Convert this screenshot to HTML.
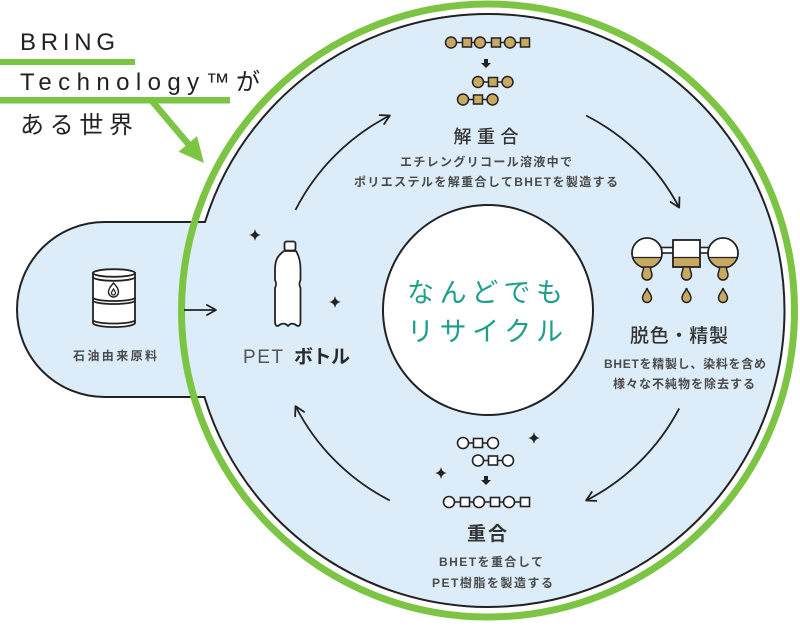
<!DOCTYPE html>
<html>
<head>
<meta charset="utf-8">
<style>
  html,body{margin:0;padding:0;background:#fff;}
  body{width:800px;height:628px;overflow:hidden;}
  svg{display:block;}
  text{font-family:"Liberation Sans","Noto Sans CJK JP",sans-serif;}
</style>
</head>
<body>
<svg width="800" height="628" viewBox="0 0 800 628" xmlns="http://www.w3.org/2000/svg">
  <defs>
    <marker id="ah" viewBox="0 0 12 12" refX="10.5" refY="6" markerWidth="12" markerHeight="12" markerUnits="userSpaceOnUse" orient="auto">
      <path d="M1.5,1 L10.5,6 L1.5,11" fill="none" stroke="#222" stroke-width="1.8" stroke-linecap="round" stroke-linejoin="round"/>
    </marker>
    <clipPath id="liq"><rect x="600" y="257.5" width="160" height="30"/></clipPath>
  </defs>

  <rect x="0" y="0" width="800" height="628" fill="#fff"/>

  <path d="M205,222 A296.5,296.5 0 1 1 204.4,397 L104.5,397 A87.5,87.5 0 0 1 104.5,222 Z"
        fill="#dcedf9" stroke="#222" stroke-width="2"/>

  <circle cx="488" cy="310.5" r="306.5" fill="none" stroke="#7cc444" stroke-width="7"/>

  <circle cx="488" cy="310" r="105" fill="#fff" stroke="#222" stroke-width="2"/>

  <text x="20" y="50" font-size="24" fill="#222" textLength="95" lengthAdjust="spacing">BRING</text>
  <rect x="0" y="59" width="135" height="6" fill="#7cc444"/>
  <text x="20" y="90" font-size="24" fill="#222" textLength="240" lengthAdjust="spacing">Technology™が</text>
  <rect x="0" y="97" width="230" height="6.5" fill="#7cc444"/>
  <text x="20" y="133" font-size="24" fill="#222" textLength="113" lengthAdjust="spacing">ある世界</text>
  <line x1="152" y1="101" x2="190" y2="146" stroke="#7cc444" stroke-width="6.5"/>
  <polygon points="204,163 178.6,151.7 197,136.1" fill="#7cc444"/>

  <g fill="none" stroke="#222" stroke-width="1.8" marker-end="url(#ah)">
    <path d="M295.5,209.9 A216,216 0 0 1 389.9,115.5"/>
    <path d="M586.1,115.5 A216,216 0 0 1 679.2,207.6"/>
    <path d="M679.2,408.4 A216,216 0 0 1 586.1,500.5"/>
    <path d="M389.9,500.5 A216,216 0 0 1 295.5,406.1"/>
  </g>

  <line x1="184" y1="310" x2="216" y2="310" stroke="#222" stroke-width="1.8" marker-end="url(#ah)"/>

  <g stroke="#222" stroke-width="1.8" fill="#fff">
    <path d="M93,273 L93,323 A21,4 0 0 0 135,323 L135,273 Z"/>
    <ellipse cx="114" cy="273" rx="21" ry="3.8"/>
    <path d="M93,277 A21,3.8 0 0 0 135,277" fill="none"/>
    <path d="M93,297.5 A21,3.5 0 0 0 135,297.5" fill="none"/>
    <path d="M93,300.5 A21,3.5 0 0 0 135,300.5" fill="none"/>
    <path d="M93,320 A21,3.5 0 0 0 135,320" fill="none"/>
    <path d="M113.5,283 C116.5,286 118.5,289 118.5,292 A5,5 0 0 1 108.5,292 C108.5,289 110.5,286.5 113.5,283 Z" stroke-width="1.4"/>
    <path d="M113.5,289 C114.5,290.5 115.5,292 115.5,293 A2,2 0 0 1 111.5,293 C111.5,292 112.5,290.5 113.5,289 Z" stroke-width="1.2"/>
  </g>
  <text x="115" y="360" font-size="12" font-weight="700" fill="#4a4a4a" text-anchor="middle" textLength="84" lengthAdjust="spacing">石油由来原料</text>

  <g stroke="#222" stroke-width="1.8" fill="#fff" stroke-linejoin="round">
    <rect x="284.5" y="241.5" width="11" height="9" rx="2"/>
    <path d="M284,251 L296,251 C299,256 300.5,261 300.5,270 L300.5,280 C299,283 299,285 300.5,288 L300.5,321 C300.5,326 298.5,327 296,325 C293.5,323 290.5,323 288,326 C285.5,323 282,323 279.5,325 C277,327 275,326 275,321 L275,288 C276.5,285 276.5,283 275,280 L275,270 C275,261 277,256 284,251 Z"/>
  </g>
  <text x="243" y="363" font-size="19" fill="#555" textLength="40" lengthAdjust="spacing">PET</text>
  <text x="294" y="363" font-size="19" font-weight="700" fill="#2a2a2a" textLength="56" lengthAdjust="spacing">ボトル</text>

  <g fill="#222">
    <path d="M255,229 Q255.8,234.2 261,235 Q255.8,235.8 255,241 Q254.2,235.8 249,235 Q254.2,234.2 255,229 Z"/>
    <path d="M335,296 Q335.8,301.2 341,302 Q335.8,302.8 335,308 Q334.2,302.8 329,302 Q334.2,301.2 335,296 Z"/>
    <path d="M534,432 Q534.8,437.2 540,438 Q534.8,438.8 534,444 Q533.2,438.8 528,438 Q533.2,437.2 534,432 Z"/>
    <path d="M441,467 Q441.8,472.2 447,473 Q441.8,473.8 441,479 Q440.2,473.8 435,473 Q440.2,472.2 441,467 Z"/>
  </g>

  <text x="485" y="302" font-size="27" fill="#1f9e8c" text-anchor="middle" textLength="156" lengthAdjust="spacing">なんどでも</text>
  <text x="485" y="341" font-size="27" fill="#1f9e8c" text-anchor="middle" textLength="156" lengthAdjust="spacing">リサイクル</text>

  <g stroke="#222" stroke-width="1.5" fill="#c9a862">
    <line x1="451" y1="42.5" x2="525" y2="42.5"/>
    <circle cx="451" cy="42.5" r="5.5"/>
    <rect x="462.5" y="38" width="9" height="9"/>
    <circle cx="480" cy="42.5" r="5.5"/>
    <rect x="491.5" y="38" width="9" height="9"/>
    <circle cx="510" cy="42.5" r="5.5"/>
    <rect x="520.5" y="38" width="9" height="9"/>

    <line x1="478" y1="82" x2="507.5" y2="82"/>
    <circle cx="478" cy="82" r="5.5"/>
    <rect x="488.5" y="77.5" width="9" height="9"/>
    <circle cx="507.5" cy="82" r="5.5"/>

    <line x1="463" y1="99.5" x2="492.5" y2="99.5"/>
    <circle cx="463" cy="99.5" r="5.5"/>
    <rect x="473.5" y="95" width="9" height="9"/>
    <circle cx="492.5" cy="99.5" r="5.5"/>
  </g>
  <path d="M484,59 h4 v4 h3 l-5,5 l-5,-5 h3 z" fill="#222"/>

  <text x="486" y="143" font-size="18" font-weight="500" fill="#333" text-anchor="middle" textLength="65" lengthAdjust="spacing">解重合</text>
  <text x="486" y="166" font-size="12" font-weight="700" fill="#4a4a4a" text-anchor="middle" textLength="172" lengthAdjust="spacing">エチレングリコール溶液中で</text>
  <text x="486" y="186" font-size="12" font-weight="700" fill="#4a4a4a" text-anchor="middle" textLength="264" lengthAdjust="spacing">ポリエステルを解重合してBHETを製造する</text>

  <g stroke="#222" stroke-width="1.6">
    <rect x="655" y="247.5" width="25" height="5.5" fill="#fff"/>
    <rect x="693" y="247.5" width="25" height="5.5" fill="#fff"/>
    <circle cx="647" cy="253" r="15" fill="#fff"/>
    <circle cx="723" cy="253" r="15" fill="#fff"/>
    <rect x="673" y="240" width="27" height="27" fill="#fff"/>
  </g>
  <g fill="#c9a862" clip-path="url(#liq)">
    <circle cx="647" cy="253" r="14"/>
    <circle cx="723" cy="253" r="14"/>
    <rect x="674" y="241" width="25" height="25"/>
  </g>
  <g stroke="#222" stroke-width="1.6" fill="none">
    <circle cx="647" cy="253" r="15"/>
    <circle cx="723" cy="253" r="15"/>
    <rect x="673" y="240" width="27" height="27"/>
    <line x1="632" y1="257.5" x2="662" y2="257.5" stroke-width="1.2"/>
    <line x1="708" y1="257.5" x2="738" y2="257.5" stroke-width="1.2"/>
    <line x1="673" y1="257.5" x2="700" y2="257.5" stroke-width="1.2"/>
  </g>
  <g stroke="#222" stroke-width="1.5" fill="#c9a862">
    <path d="M643.5,267 C644,270 642,272 642,275 A5,5 0 0 0 652,275 C652,272 650,270 650.5,267 Z"/>
    <path d="M683,267 C683.5,270 681.5,272 681.5,275 A5,5 0 0 0 691.5,275 C691.5,272 689.5,270 690,267 Z"/>
    <path d="M719.5,267 C720,270 718,272 718,275 A5,5 0 0 0 728,275 C728,272 726,270 726.5,267 Z"/>
    <path d="M647,288 C646,292 642.5,294 642.5,298 A4.5,4.5 0 0 0 651.5,298 C651.5,294 648,292 647,288 Z"/>
    <path d="M686.5,288 C685.5,292 682,294 682,298 A4.5,4.5 0 0 0 691,298 C691,294 687.5,292 686.5,288 Z"/>
    <path d="M723,288 C722,292 718.5,294 718.5,298 A4.5,4.5 0 0 0 727.5,298 C727.5,294 724,292 723,288 Z"/>
  </g>

  <text x="679" y="342" font-size="19" font-weight="500" fill="#333" text-anchor="middle" textLength="98" lengthAdjust="spacing">脱色・精製</text>
  <text x="685" y="368" font-size="12" font-weight="700" fill="#4a4a4a" text-anchor="middle" textLength="162" lengthAdjust="spacing">BHETを精製し、染料を含め</text>
  <text x="684" y="388" font-size="12" font-weight="700" fill="#4a4a4a" text-anchor="middle" textLength="142" lengthAdjust="spacing">様々な不純物を除去する</text>

  <g stroke="#222" stroke-width="1.6" fill="#fff">
    <line x1="463" y1="443" x2="493" y2="443"/>
    <circle cx="463" cy="443" r="5.5"/>
    <rect x="473.5" y="438.5" width="9" height="9"/>
    <circle cx="493" cy="443" r="5.5"/>

    <line x1="478" y1="460.5" x2="508" y2="460.5"/>
    <circle cx="478" cy="460.5" r="5.5"/>
    <rect x="488.5" y="456" width="9" height="9"/>
    <circle cx="508" cy="460.5" r="5.5"/>

    <line x1="449" y1="502" x2="525" y2="502"/>
    <circle cx="449" cy="502" r="5.5"/>
    <rect x="460.5" y="497.5" width="9" height="9"/>
    <circle cx="479" cy="502" r="5.5"/>
    <rect x="490.5" y="497.5" width="9" height="9"/>
    <circle cx="509" cy="502" r="5.5"/>
    <rect x="520.5" y="497.5" width="9" height="9"/>
  </g>
  <path d="M484,476 h4 v4 h3 l-5,5 l-5,-5 h3 z" fill="#222"/>

  <text x="487" y="540" font-size="19" font-weight="700" fill="#333" text-anchor="middle" textLength="40" lengthAdjust="spacing">重合</text>
  <text x="491" y="566" font-size="12" font-weight="700" fill="#4a4a4a" text-anchor="middle" textLength="104" lengthAdjust="spacing">BHETを重合して</text>
  <text x="492.5" y="587" font-size="12" font-weight="700" fill="#4a4a4a" text-anchor="middle" textLength="121" lengthAdjust="spacing">PET樹脂を製造する</text>
</svg>
</body>
</html>
